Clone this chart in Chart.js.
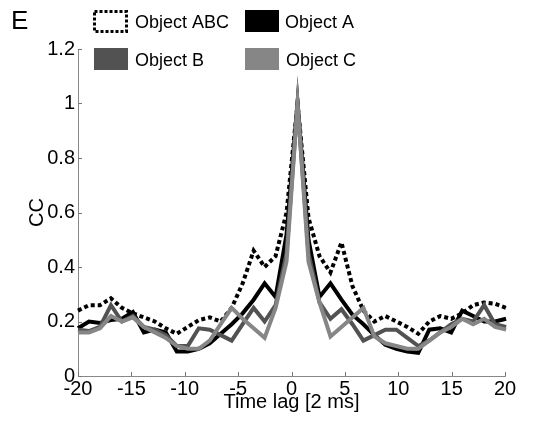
<!DOCTYPE html>
<html>
<head>
<meta charset="utf-8">
<script src="https://cdn.jsdelivr.net/npm/chart.js@4"></script>
<style>
  body { margin: 0; background: #fff; }
  #wrap { width: 535px; height: 427px; }
</style>
</head>
<body>
<div id="wrap"><canvas id="chart" width="535" height="427"></canvas></div>
<script>
// ---------- data ----------
const lags = [-20, -19, -18, -17, -16, -15, -14, -13, -12, -11, -10, -9, -8, -7, -6, -5, -4, -3, -2, -1,
  0, 1, 2, 3, 4, 5, 6, 7, 8, 9, 10, 11, 12, 13, 14, 15, 16, 17, 18, 19, 20];

const objABC = [0.24, 0.26, 0.26, 0.285, 0.25, 0.23, 0.215, 0.2, 0.175, 0.155,
  0.18, 0.205, 0.215, 0.2, 0.25, 0.34, 0.46, 0.4, 0.44, 0.6,
  1.0,
  0.58, 0.44, 0.38, 0.49, 0.33, 0.24, 0.2, 0.22, 0.2, 0.18,
  0.155, 0.2, 0.22, 0.21, 0.23, 0.26, 0.27, 0.265, 0.25, 0.24];

const objA = [0.175, 0.2, 0.195, 0.205, 0.21, 0.235, 0.16, 0.17, 0.16, 0.09,
  0.09, 0.1, 0.12, 0.155, 0.19, 0.23, 0.28, 0.34, 0.29, 0.52,
  1.0,
  0.5, 0.29, 0.34, 0.28, 0.225, 0.19, 0.15, 0.115, 0.1, 0.09,
  0.085, 0.17, 0.175, 0.16, 0.24, 0.22, 0.2, 0.2, 0.21, 0.175];

const objB = [0.17, 0.165, 0.18, 0.26, 0.2, 0.22, 0.18, 0.17, 0.15, 0.11,
  0.11, 0.175, 0.17, 0.15, 0.13, 0.19, 0.25, 0.2, 0.26, 0.45,
  1.0,
  0.45, 0.27, 0.21, 0.245, 0.19, 0.13, 0.15, 0.17, 0.17, 0.14,
  0.11, 0.13, 0.16, 0.19, 0.21, 0.2, 0.26, 0.19, 0.18, 0.17];

const objC = [0.16, 0.16, 0.175, 0.22, 0.2, 0.215, 0.18, 0.16, 0.14, 0.11,
  0.1, 0.1, 0.13, 0.19, 0.25, 0.21, 0.175, 0.14, 0.25, 0.42,
  1.0,
  0.42, 0.27, 0.145, 0.18, 0.215, 0.25, 0.145, 0.12, 0.11, 0.1,
  0.1, 0.13, 0.16, 0.18, 0.21, 0.19, 0.21, 0.18, 0.17, 0.165];

const xTicks = [-20, -15, -10, -5, 0, 5, 10, 15, 20];
const yTicks = [0, 0.2, 0.4, 0.6, 0.8, 1, 1.2];

// in the original the curves run a bit past the "20" tick, so they get
// their own (hidden) x scale that is slightly shorter than the visible one
const dataAxisMax = 18.9;

const FONT = '"Liberation Sans", Arial, sans-serif';

const toPoints = (vals) => vals.map((v, i) => ({ x: lags[i], y: v }));

// ---------- extra drawing: inward ticks, panel letter, legend ----------
const decor = {
  id: "decor",
  beforeDatasetsDraw(chart) {
    const { ctx, chartArea, scales } = chart;
    ctx.save();
    ctx.strokeStyle = "#777";
    ctx.lineWidth = 1;
    xTicks.forEach((v) => {
      const px = Math.round(scales.x.getPixelForValue(v)) + 0.5;
      ctx.beginPath();
      ctx.moveTo(px, chartArea.bottom);
      ctx.lineTo(px, chartArea.bottom - 4);
      ctx.stroke();
    });
    yTicks.forEach((v) => {
      const py = Math.round(scales.y.getPixelForValue(v)) + 0.5;
      ctx.beginPath();
      ctx.moveTo(chartArea.left, py);
      ctx.lineTo(chartArea.left + 4, py);
      ctx.stroke();
    });
    ctx.restore();
    // sharp joins at the peak, like the original
    ctx.miterLimit = 30;
  },
  afterDraw(chart) {
    const ctx = chart.ctx;
    const ds = chart.data.datasets;
    ctx.save();
    ctx.fillStyle = "#000";
    ctx.font = "26px " + FONT;
    ctx.textBaseline = "top";
    ctx.fillText("E", 11, 9);

    const slots = [
      { d: 0, bx: 93, by: 10, tx: 135, ty: 23 },
      { d: 1, bx: 245, by: 10, tx: 285, ty: 23 },
      { d: 2, bx: 94, by: 48, tx: 135, ty: 61 },
      { d: 3, bx: 245, by: 48, tx: 286, ty: 61 },
    ];
    ctx.font = "18px " + FONT;
    ctx.textBaseline = "middle";
    slots.forEach((s) => {
      const set = ds[s.d];
      if (set.borderDash && set.borderDash.length) {
        ctx.setLineDash([3, 2]);
        ctx.lineWidth = 3;
        ctx.strokeStyle = set.borderColor;
        ctx.strokeRect(s.bx + 1.5, s.by + 1.5, 32, 20);
        ctx.setLineDash([]);
      } else {
        ctx.fillStyle = set.borderColor;
        ctx.fillRect(s.bx, s.by, 34, 22);
      }
      ctx.fillStyle = "#000";
      ctx.fillText(set.label, s.tx, s.ty);
    });
    ctx.restore();
  },
};

new Chart(document.getElementById("chart"), {
  type: "line",
  data: {
    datasets: [
      { label: "Object ABC", data: toPoints(objABC), borderColor: "#000", borderDash: [4, 3], order: 3 },
      { label: "Object A", data: toPoints(objA), borderColor: "#000", order: 2 },
      { label: "Object B", data: toPoints(objB), borderColor: "#525252", order: 1 },
      { label: "Object C", data: toPoints(objC), borderColor: "#868686", order: 0 },
    ].map((d) => ({
      ...d,
      xAxisID: "xd",
      borderWidth: 4,
      pointRadius: 0,
      tension: 0,
      fill: false,
      clip: false,
    })),
  },
  options: {
    responsive: false,
    animation: false,
    devicePixelRatio: 1,
    layout: { padding: { top: 49, right: 30, bottom: 0, left: 0 } },
    plugins: { legend: { display: false }, tooltip: { enabled: false } },
    scales: {
      x: {
        type: "linear",
        min: -20,
        max: 20,
        afterBuildTicks: (s) => { s.ticks = xTicks.map((v) => ({ value: v })); },
        afterFit: (s) => { s.height = 51; },
        grid: { display: false, drawTicks: false },
        border: { display: true, color: "#888", width: 1 },
        ticks: { color: "#000", font: { family: FONT, size: 20 }, padding: 1, maxRotation: 0, autoSkip: false, callback: (v) => String(v) },
        title: { display: true, text: "Time lag [2 ms]", color: "#000", font: { family: FONT, size: 20 }, padding: { top: 0, bottom: 13 } },
      },
      xd: { type: "linear", display: false, min: -20, max: dataAxisMax },
      y: {
        min: 0,
        max: 1.2,
        afterBuildTicks: (s) => { s.ticks = yTicks.map((v) => ({ value: v })); },
        afterFit: (s) => { s.width = 78; },
        grid: { display: false, drawTicks: false },
        border: { display: true, color: "#888", width: 1 },
        ticks: { color: "#000", font: { family: FONT, size: 20 }, padding: 3, callback: (v) => String(v) },
        title: { display: true, text: "CC", color: "#000", font: { family: FONT, size: 20 }, padding: { top: 25, bottom: 0 } },
      },
    },
  },
  plugins: [decor],
});
</script>
</body>
</html>
